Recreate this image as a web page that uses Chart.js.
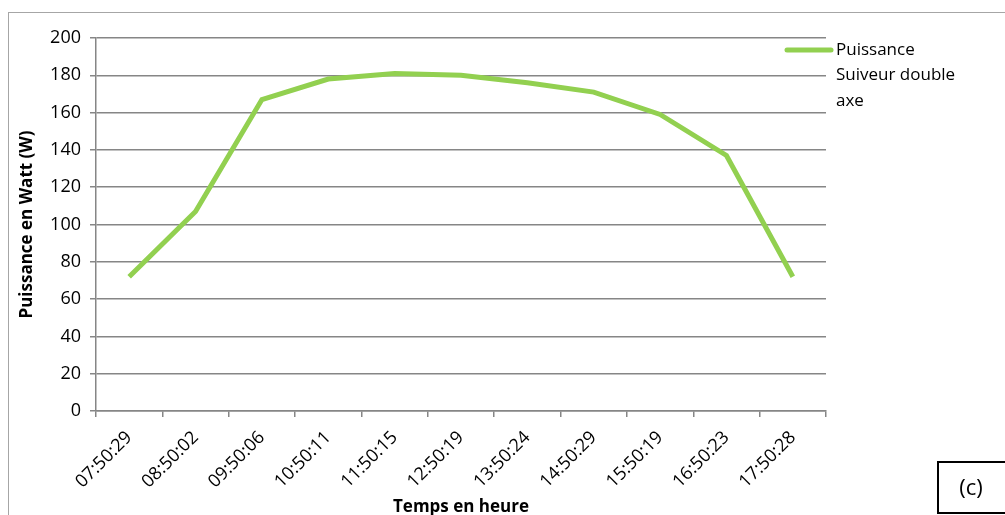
<!DOCTYPE html>
<html>
<head>
<meta charset="utf-8">
<script src="https://cdn.jsdelivr.net/npm/chart.js@4"></script>
<style>
    html, body { margin: 0; padding: 0; background: #fff; }
    #wrap { width: 1005px; height: 515px; position: relative; }
</style>
</head>
<body>
<div id="wrap"><canvas id="chart"></canvas></div>
<script>
// Heures de mesure et puissance (W)
const timeLabels = ['07:50:29', '08:50:02', '09:50:06', '10:50:11', '11:50:15', '12:50:19',
    '13:50:24', '14:50:29', '15:50:19', '16:50:23', '17:50:28'];
const powerValues = [72, 107, 167, 178, 181, 180, 176, 171, 159, 137, 72];
const legendLines = ['Puissance', 'Suiveur double', 'axe'];
const yTicks = { min: 0, max: 200, step: 20 };

const LINE_COLOR = '#92D050';
const GRID_COLOR = '#868686';
const FONT = "'Open Sans', 'Noto Sans', sans-serif";

/**
 * Frame, legend and panel tag drawn on top of the chart
 */
const decorPlugin = {
    id: 'decor',
    afterDraw(chart) {
        const ctx = chart.ctx;
        ctx.save();

        // outer frame of the chart object
        ctx.strokeStyle = '#A6A6A6';
        ctx.lineWidth = 1;
        ctx.strokeRect(8.5, 12.5, 1100, 600);

        // legend
        const ds = chart.data.datasets[0];
        const lx = chart.chartArea.right - 39;
        const ly = 50;
        ctx.strokeStyle = ds.borderColor;
        ctx.lineWidth = 5;
        ctx.lineCap = 'round';
        ctx.beginPath();
        ctx.moveTo(lx, ly);
        ctx.lineTo(lx + 44, ly);
        ctx.stroke();
        ctx.fillStyle = '#000';
        ctx.font = `17px ${FONT}`;
        ctx.textBaseline = 'middle';
        ctx.textAlign = 'left';
        legendLines.forEach((line, i) => ctx.fillText(line, lx + 49, ly + i * 25.5));

        // panel tag
        ctx.strokeStyle = '#000';
        ctx.lineWidth = 2;
        ctx.lineCap = 'butt';
        ctx.strokeRect(938, 462, 100, 51);
        ctx.font = `22px ${FONT}`;
        ctx.textAlign = 'center';
        ctx.fillText('(c)', 971, 489);

        ctx.restore();
    }
};

const config = {
    type: 'line',
    data: {
        labels: timeLabels,
        datasets: [{
            label: legendLines.join(' '),
            data: powerValues,
            borderColor: LINE_COLOR,
            backgroundColor: LINE_COLOR,
            borderWidth: 5,
            pointRadius: 0,
            tension: 0,
            fill: false
        }]
    },
    options: {
        responsive: true,
        maintainAspectRatio: false,
        animation: false,
        layout: {
            padding: { left: 8, right: 179, top: 38, bottom: 0 }
        },
        plugins: {
            legend: { display: false },
            tooltip: { enabled: false }
        },
        scales: {
            x: {
                offset: true,
                grid: {
                    offset: true,
                    drawOnChartArea: false,
                    drawTicks: true,
                    tickLength: 6,
                    color: GRID_COLOR,
                    lineWidth: 1.5
                },
                border: { color: GRID_COLOR, width: 1.5 },
                ticks: {
                    minRotation: 45,
                    maxRotation: 45,
                    autoSkip: false,
                    padding: 10,
                    color: '#000',
                    font: { family: FONT, size: 18 }
                },
                title: {
                    display: true,
                    text: 'Temps en heure',
                    color: '#000',
                    font: { family: FONT, size: 17, weight: 'bold' },
                    padding: { top: 0, bottom: -2 }
                },
                afterFit: scale => { scale.height = 104; }
            },
            y: {
                min: yTicks.min,
                max: yTicks.max,
                grid: {
                    color: GRID_COLOR,
                    lineWidth: 1.5,
                    tickLength: 6
                },
                border: { color: GRID_COLOR, width: 1.5 },
                ticks: {
                    stepSize: yTicks.step,
                    padding: 9,
                    color: '#000',
                    font: { family: FONT, size: 18 }
                },
                title: {
                    display: true,
                    text: 'Puissance en Watt (W)',
                    color: '#000',
                    font: { family: FONT, size: 17, weight: 'bold' },
                    padding: { top: 9, bottom: 0 }
                },
                afterFit: scale => { scale.width = 88; }
            }
        }
    },
    plugins: [decorPlugin]
};

new Chart(document.getElementById('chart'), config);
</script>
</body>
</html>
